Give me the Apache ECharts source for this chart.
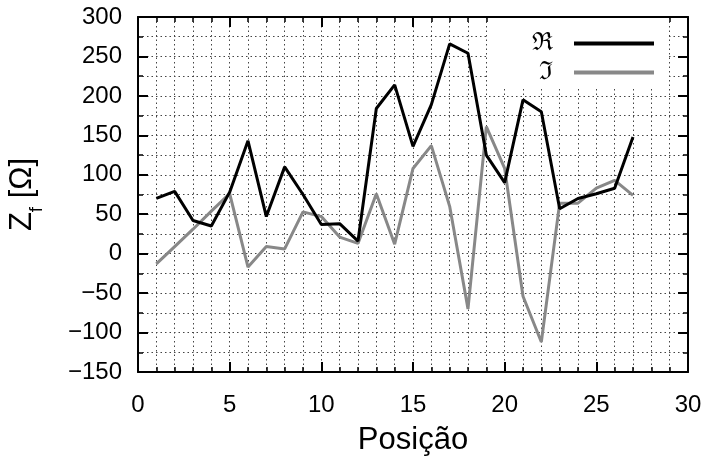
<!DOCTYPE html>
<html>
<head>
<meta charset="utf-8">
<script src="https://cdn.jsdelivr.net/npm/echarts@6/dist/echarts.min.js"></script>
<style>
	html, body { margin: 0; padding: 0; background: #fff; }
	#chart { width: 712px; height: 461px; }
</style>
</head>
<body>
<div id="chart"></div>
<script>
// posições e valores
var positions = [1, 2, 3, 4, 5, 6, 7, 8, 9, 10, 11, 12, 13, 14, 15, 16, 17, 18, 19, 20, 21, 22, 23, 24, 25, 26, 27];
var realValues = [70, 79, 42, 35, 78, 143, 47, 110, 75, 37, 38, 16, 184, 214, 136, 189, 266, 254, 125, 90, 195, 180, 57, 70, 76, 83, 148];
var imagValues = [-13, 9, 31, 54, 76, -17, 9, 6, 53, 47, 21, 13, 76, 12, 108, 137, 60, -70, 161, 108, -54, -112, 64, 64, 83, 93, 74];
var xTicks = [0, 5, 10, 15, 20, 25, 30];
var yTicks = [-150, -100, -50, 0, 50, 100, 150, 200, 250, 300];

var font = 'Liberation Sans, Arial, sans-serif';

function pairs(xs, ys) {
	var out = [];
	for (var i = 0; i < xs.length; i++) {
		out.push([xs[i], ys[i]]);
	}
	return out;
}

var dotted = { show: true, lineStyle: { color: '#444', type: [1.5, 3], width: 1 } };

function xAxisDef(pos, labels) {
	return {
		type: 'value',
		position: pos,
		min: xTicks[0],
		max: xTicks[xTicks.length - 1],
		interval: 5,
		axisLine: { show: true, onZero: false, lineStyle: { color: '#000', width: 2 } },
		axisTick: { show: true, inside: true, length: 10, lineStyle: { color: '#000', width: 2 } },
		minorTick: { show: true, splitNumber: 5, length: 5, lineStyle: { color: '#000', width: 1.5 } },
		splitLine: pos == 'bottom' ? dotted : { show: false },
		minorSplitLine: pos == 'bottom' ? dotted : { show: false },
		axisLabel: { show: labels, color: '#000', fontSize: 24, fontFamily: font, margin: 21 },
		name: labels ? 'Posição' : '',
		nameLocation: 'middle',
		nameGap: 53,
		nameTextStyle: { color: '#000', fontSize: 31, fontFamily: font }
	};
}

function yAxisDef(pos, labels) {
	return {
		type: 'value',
		position: pos,
		min: yTicks[0],
		max: yTicks[yTicks.length - 1],
		interval: 50,
		axisLine: { show: true, onZero: false, lineStyle: { color: '#000', width: 2 } },
		axisTick: { show: true, inside: true, length: 10, lineStyle: { color: '#000', width: 2 } },
		minorTick: { show: true, splitNumber: 2, length: 5, lineStyle: { color: '#000', width: 1.5 } },
		splitLine: pos == 'left' ? dotted : { show: false },
		minorSplitLine: pos == 'left' ? dotted : { show: false },
		axisLabel: {
			show: labels, color: '#000', fontSize: 24, fontFamily: font, margin: 16,
			formatter: function(v) { return v < 0 ? '\u2212' + (-v) : '' + v; }
		},
		name: labels ? '{z|Z}{s|f}{z| [Ω]}' : '',
		nameLocation: 'middle',
		nameGap: 100,
		nameTextStyle: {
			rich: {
				z: { fontSize: 31, fontFamily: font, color: '#000' },
				s: { fontSize: 19, fontFamily: font, color: '#000', verticalAlign: 'bottom', padding: [0, 0, -8, 0] }
			}
		}
	};
}

var chart = echarts.init(document.getElementById('chart'));
var option = {
	animation: false,
	backgroundColor: '#fff',
	grid: { left: 138, right: 24, top: 17, bottom: 89, containLabel: false, outerBoundsMode: 'none' },
	graphic: [{
		type: 'rect',
		shape: { x: 488, y: 18, width: 181, height: 69 },
		style: { fill: '#fff' },
		z: 1
	}],
	legend: {
		orient: 'vertical',
		right: 53,
		top: 26,
		align: 'right',
		itemWidth: 80,
		itemHeight: 4,
		itemGap: 4,
		icon: 'rect',
		textStyle: { color: '#000', fontSize: 25, lineHeight: 24, fontFamily: 'DejaVu Serif, serif', padding: [0, 16, 0, 0] },
		data: ['ℜ', 'ℑ']
	},
	xAxis: [xAxisDef('bottom', true), xAxisDef('top', false)],
	yAxis: [yAxisDef('left', true), yAxisDef('right', false)],
	series: [{
		name: 'ℜ',
		type: 'line',
		xAxisIndex: 0,
		yAxisIndex: 0,
		data: pairs(positions, realValues),
		showSymbol: false,
		symbol: 'none',
		color: '#000',
		lineStyle: { color: '#000', width: 3 },
		z: 3
	}, {
		name: 'ℑ',
		type: 'line',
		xAxisIndex: 0,
		yAxisIndex: 0,
		data: pairs(positions, imagValues),
		showSymbol: false,
		symbol: 'none',
		color: '#888',
		lineStyle: { color: '#888', width: 3 },
		z: 2
	}]
};
chart.setOption(option);
</script>
</body>
</html>
